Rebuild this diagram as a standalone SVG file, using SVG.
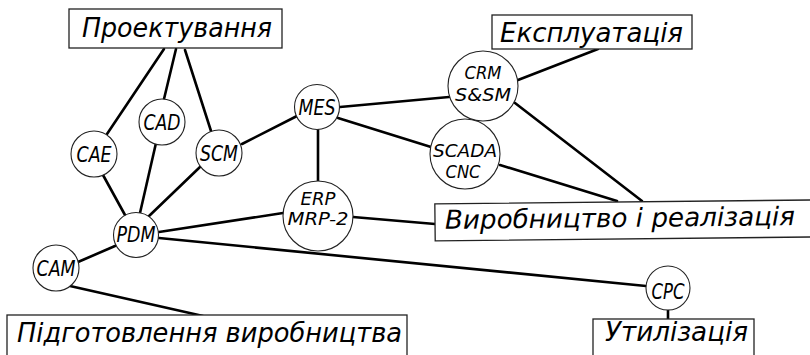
<svg xmlns="http://www.w3.org/2000/svg" width="810" height="355" viewBox="0 0 810 355">
  <style>
    .link { stroke: #000; stroke-width: 2.6; fill: none; stroke-linecap: round; }
    .node circle { fill: #fff; stroke: #222; stroke-width: 1.1; }
    .stage rect { fill: #fff; stroke: #222; stroke-width: 1.3; }
    text { font-family: "DejaVu Sans", "Liberation Sans", sans-serif; font-style: italic; fill: #000; }
    .abbr { font-size: 20.5px; text-anchor: middle; }
    .abbr2 { font-size: 18.5px; text-anchor: middle; }
    .title { font-size: 26px; }
  </style>
  <rect width="810" height="355" fill="#fff"/>

  <g id="connectors">
    <line class="link" x1="164" y1="49" x2="107" y2="134"/>
    <line class="link" x1="176" y1="49" x2="164" y2="99"/>
    <line class="link" x1="185" y1="50" x2="211" y2="131"/>
    <line class="link" x1="242" y1="144" x2="297" y2="116"/>
    <line class="link" x1="103" y1="175" x2="125" y2="215"/>
    <line class="link" x1="156" y1="143" x2="140" y2="213"/>
    <line class="link" x1="200" y1="167" x2="148" y2="217"/>
    <line class="link" x1="159" y1="232" x2="283" y2="213"/>
    <line class="link" x1="159" y1="238" x2="646" y2="286"/>
    <line class="link" x1="115" y1="246" x2="78" y2="262"/>
    <line class="link" x1="70" y1="286" x2="203" y2="316"/>
    <line class="link" x1="318" y1="130" x2="318" y2="181"/>
    <line class="link" x1="353" y1="217" x2="435" y2="224"/>
    <line class="link" x1="340" y1="107" x2="449" y2="97"/>
    <line class="link" x1="338" y1="118" x2="431" y2="147"/>
    <line class="link" x1="518" y1="80" x2="598" y2="49"/>
    <line class="link" x1="515" y1="103" x2="642" y2="201"/>
    <line class="link" x1="500" y1="165" x2="617" y2="201"/>
    <line class="link" x1="668" y1="310" x2="668" y2="319"/>
  </g>

  <g id="proektuvannia" class="stage">
    <rect x="69" y="9" width="213" height="39"/>
    <text class="title" x="82" y="37" textLength="190" lengthAdjust="spacingAndGlyphs">Проектування</text>
  </g>
  <g id="ekspluatatsiia" class="stage">
    <rect x="492" y="15" width="200" height="34"/>
    <text class="title" x="500" y="42" textLength="183" lengthAdjust="spacingAndGlyphs">Експлуатація</text>
  </g>
  <g id="vyrobnytstvo" class="stage" transform="rotate(-0.6 620 220)">
    <rect x="435" y="202" width="380" height="37"/>
    <text class="title" x="445" y="227" textLength="350" lengthAdjust="spacingAndGlyphs">Виробництво і реалізація</text>
  </g>
  <g id="pidhotovlennia" class="stage">
    <rect x="7" y="315" width="400" height="45"/>
    <text class="title" x="17" y="342" textLength="385" lengthAdjust="spacingAndGlyphs">Підготовлення виробництва</text>
  </g>
  <g id="utylizatsiia" class="stage">
    <rect x="593" y="319" width="161" height="45"/>
    <text class="title" x="605" y="341" textLength="143" lengthAdjust="spacingAndGlyphs">Утилізація</text>
  </g>

  <g id="cae" class="node">
    <circle cx="94" cy="154" r="23"/>
    <text class="abbr" x="94" y="162" textLength="35" lengthAdjust="spacingAndGlyphs">CAE</text>
  </g>
  <g id="cad" class="node">
    <circle cx="162" cy="122" r="23"/>
    <text class="abbr" x="162" y="130" textLength="37" lengthAdjust="spacingAndGlyphs">CAD</text>
  </g>
  <g id="scm" class="node">
    <circle cx="219" cy="153" r="23"/>
    <text class="abbr" x="219" y="161" textLength="38" lengthAdjust="spacingAndGlyphs">SCM</text>
  </g>
  <g id="mes" class="node">
    <circle cx="317" cy="107" r="22.5"/>
    <text class="abbr" x="317" y="115" textLength="37" lengthAdjust="spacingAndGlyphs">MES</text>
  </g>
  <g id="crm" class="node">
    <circle cx="483" cy="86" r="35"/>
    <text class="abbr2" x="483" y="79" textLength="37" lengthAdjust="spacingAndGlyphs">CRM</text>
    <text class="abbr2" x="483" y="101" textLength="56" lengthAdjust="spacingAndGlyphs">S&amp;SM</text>
  </g>
  <g id="scada" class="node">
    <circle cx="465" cy="154" r="35"/>
    <text class="abbr2" x="465" y="157" textLength="64" lengthAdjust="spacingAndGlyphs">SCADA</text>
    <text class="abbr2" x="463" y="178" textLength="35" lengthAdjust="spacingAndGlyphs">CNC</text>
  </g>
  <g id="erp" class="node">
    <circle cx="318" cy="216" r="35"/>
    <text class="abbr2" x="318" y="205" textLength="35" lengthAdjust="spacingAndGlyphs">ERP</text>
    <text class="abbr2" x="318" y="225" textLength="61" lengthAdjust="spacingAndGlyphs">MRP-2</text>
  </g>
  <g id="pdm" class="node">
    <circle cx="136" cy="235" r="22.5"/>
    <text class="abbr" x="136" y="242" textLength="39" lengthAdjust="spacingAndGlyphs">PDM</text>
  </g>
  <g id="cam" class="node">
    <circle cx="56" cy="268" r="23"/>
    <text class="abbr" x="56" y="276" textLength="39" lengthAdjust="spacingAndGlyphs">CAM</text>
  </g>
  <g id="cpc" class="node">
    <circle cx="668" cy="288" r="22"/>
    <text class="abbr" x="668" y="299" textLength="33" lengthAdjust="spacingAndGlyphs">CPC</text>
  </g>
</svg>
